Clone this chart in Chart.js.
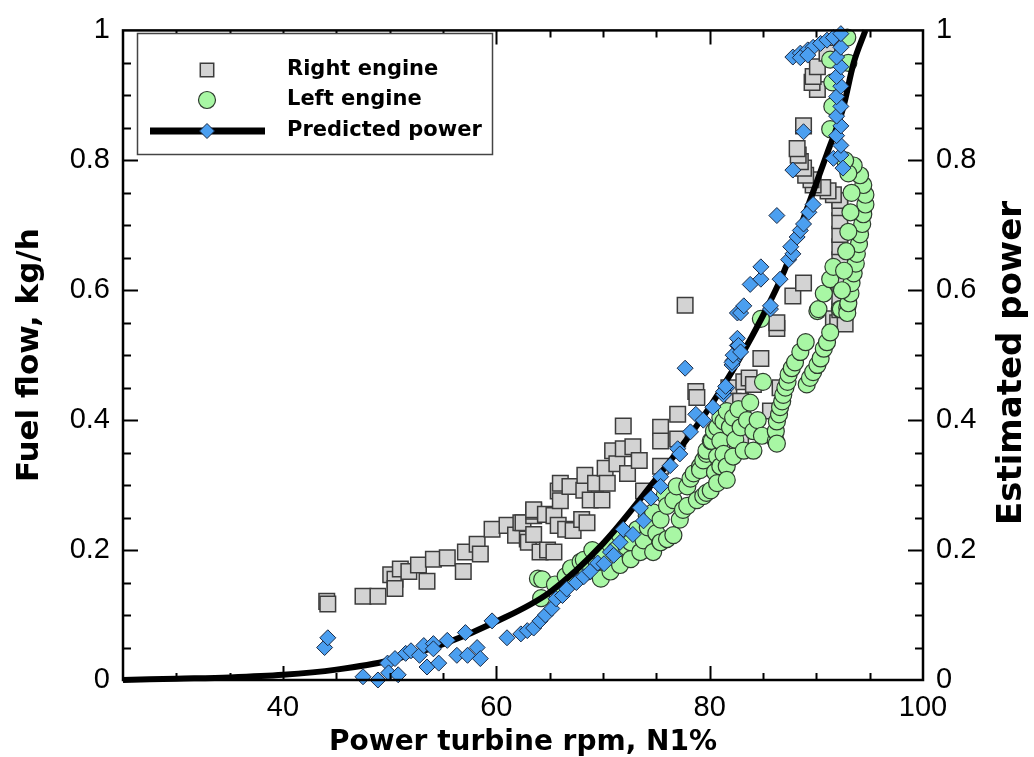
<!DOCTYPE html>
<html><head><meta charset="utf-8">
<script src="https://cdn.jsdelivr.net/npm/chart.js@4.4.1/dist/chart.umd.min.js"></script>
<style>html,body{margin:0;padding:0;background:#fff;}#wrap{width:1034px;height:757px;}</style>
</head><body><div id="wrap"><canvas id="c" width="1034" height="757"></canvas></div>
<script>
// ---- data (x = power turbine rpm N1 %, y = fuel flow / estimated power) ----
const xTickValues = [40, 60, 80, 100];
const yTickValues = [0, 0.2, 0.4, 0.6, 0.8, 1];
const xMinorStep = 5;
const yMinorStep = 0.05;

const rightEngine = [
 [44.1,.121],[44.2,.117],[47.5,.129],[48.9,.129],[50.1,.162],[50.5,.155],[50.5,.141],[51,.171],[51.8,.167],
 [52.7,.177],[53.5,.152],[54.1,.186],[55.4,.188],[56.9,.167],[57.1,.197],[58.2,.209],[58.5,.194],[59.6,.232],
 [61,.238],[61.8,.223],[62.3,.242],[62.5,.242],[62.9,.217],[63,.212],[63.5,.253],[63.5,.26],[63.5,.262],[63.5,.224],
 [64.1,.197],[64.6,.255],[64.8,.2],[65.4,.253],[65.4,.197],[65.8,.291],[65.8,.238],[66,.276],[66,.303],[66.5,.232],
 [66.9,.298],[67.2,.23],[68,.247],[68.2,.292],[68.3,.315],[68.5,.242],[68.8,.277],[69.3,.303],[69.9,.277],[70.2,.326],
 [70.4,.303],[70.9,.353],[71.3,.333],[71.9,.356],[71.9,.391],[72.3,.318],[72.8,.359],[73.4,.338],[73.8,.291],
 [75.4,.389],[75.4,.368],[75.4,.329],[77,.409],[77,.371],[77.7,.577],[78.7,.444],[78.8,.435],[81.8,.45],[82.2,.429],
 [82.6,.409],[82.6,.389],[82.6,.368],[82.9,.374],[82.9,.429],[83.1,.414],[83.2,.459],[83.7,.465],[84.1,.455],
 [84.8,.495],[85.7,.414],[86.3,.541],[86.3,.55],[86.6,.45],[87.8,.591],[88.8,.611],[91.6,.556],[92,.55],[92.7,.548],
 [92.2,.57],[92.2,.59],[92.2,.61],[92.2,.632],[92.2,.647],[92.2,.667],[92.2,.686],[92.2,.707],[92.2,.727],[92.2,.738],
 [91.6,.747],[91.1,.753],[90.6,.758],[89.7,.762],[89.5,.77],[89,.777],[88.8,.788],[88.5,.798],[88.3,.808],[88.2,.818],
 [88.8,.853],[90.1,.909],[89.6,.92],[89.7,.929],[90.1,.944],[91,.965]
];

const leftEngine = [
 [63.9,.156],[64.2,.126],[64.3,.155],[65.5,.147],[66.5,.16],[67,.172],[67.9,.182],[68.2,.185],[68.5,.167],[68.8,.174],
 [69.4,.182],[69.8,.156],[69,.2],[70,.19],[70.7,.208],[70.7,.167],[71.2,.2],[71.6,.223],[71.6,.177],[72.2,.205],
 [72.6,.212],[72.6,.186],[73.2,.232],[73.5,.197],[73.8,.215],[74.1,.253],[74.2,.235],[74.7,.258],[74.7,.197],[75,.226],
 [75.4,.247],[75.4,.212],[75.8,.285],[76,.268],[76,.217],[76.6,.277],[76.6,.223],[76.9,.298],[77.2,.247],[77.5,.262],
 [77.9,.298],[77.9,.268],[78.2,.31],[78.5,.318],[78.8,.277],[79.1,.329],[79.1,.323],[79.4,.338],[79.4,.283],[79.7,.348],
 [79.7,.353],[79.7,.288],[80.1,.368],[80.1,.292],[80.2,.368],[80.4,.383],[80.5,.32],[80.7,.389],[80.7,.344],[80.7,.303],
 [81,.404],[81,.368],[81,.329],[81.3,.398],[81.3,.348],[81.6,.414],[81.6,.329],[81.6,.308],[81.9,.389],[82.2,.404],
 [82.2,.344],[82.4,.37],[82.7,.417],[82.9,.389],[83.2,.353],[83.5,.4],[83.8,.427],[84.1,.383],[84.1,.353],[84.5,.4],
 [84.9,.376],[85,.459],[84.8,.556],[86.2,.368],[86.2,.383],[86.3,.364],[86.3,.398],[86.5,.409],[86.6,.42],[86.8,.429],
 [86.9,.439],[87.1,.45],[87.3,.459],[87.4,.47],[87.7,.48],[88,.489],[88.5,.505],[89,.52],[89.1,.455],[89.4,.465],
 [89.7,.474],[90.1,.485],[90.4,.495],[90.7,.51],[91,.52],[91.3,.535],[90.1,.568],[90.2,.571],[90.7,.595],[91.3,.617],
 [91.6,.636],[92.2,.571],[92.3,.571],[92.9,.573],[92.9,.565],[93,.58],[93.2,.595],[93.3,.611],[93.5,.626],[93.7,.641],
 [93.8,.656],[94,.671],[94.1,.686],[94.3,.702],[94.4,.717],[94.6,.732],[94.6,.747],[94.4,.762],[94.1,.777],[93.5,.792],
 [92.4,.6],[92.6,.63],[92.8,.66],[93,.69],[93.2,.72],[93.3,.75],[93,.78],[92.7,.8],[92.9,.989],[93,.95],
 [91.3,.955],[91.5,.883],[91.3,.848],[91.5,.92]
];

const predictedPoints = [
 [43.9,.05],[44.2,.065],[47.5,.005],[48.9,0],[49.8,.026],[49.9,.011],[50.5,.033],[50.8,.008],[51.5,.041],[52,.045],
 [52.8,.038],[53.2,.053],[53.5,.02],[54.1,.056],[54.1,.048],[54.6,.026],[55.4,.061],[56.3,.038],[57.1,.073],[57.3,.038],
 [58.2,.05],[58.5,.033],[59.6,.091],[61,.065],[62.3,.071],[62.9,.076],[63.5,.08],[64.1,.091],[64.6,.1],[65.2,.11],
 [65.6,.125],[66.2,.13],[66.6,.14],[67.5,.15],[68.2,.159],[68.8,.167],[69.5,.18],[70.1,.179],[70.7,.197],[71,.192],
 [71.6,.212],[71.9,.232],[72.8,.224],[73.5,.265],[73.8,.245],[74.5,.28],[75.4,.313],[75.4,.298],[76.3,.33],[77,.356],
 [77.2,.348],[77.7,.48],[78.2,.382],[78.7,.409],[79.4,.4],[80.3,.42],[81.3,.439],[81.6,.45],[81.3,.444],[81.5,.452],
 [82.1,.485],[82.2,.492],[82.1,.489],[82.2,.5],[82.6,.515],[82.6,.526],[82.7,.515],[82.9,.505],[82.6,.565],[82.9,.565],
 [83.2,.576],[83.8,.609],[84.8,.617],[84.8,.636],[85.7,.571],[85.7,.576],[86.3,.715],[86.6,.617],[87.4,.647],[87.8,.656],
 [87.6,.667],[88.2,.682],[88.5,.692],[88.8,.702],[89.3,.72],[89.7,.732],[87.8,.785],[88.8,.844],[91.6,.803],[92.3,.808],
 [92.5,.788],[92.3,.823],[91.9,.838],[92.3,.853],[91.9,.868],[92.3,.883],[91.9,.898],[92.3,.914],[91.9,.929],[92.3,.944],
 [91.9,.959],[92.3,.974],[87.8,.959],[88.5,.965],[89.2,.97],[89.7,.974],[90.4,.98],[91,.985],[91.6,.989],[92.3,.995],
 [88.5,.958],[89.2,.962]
];

const predictedCurve = [
 [25,0],[30,.002],[35,.004],[40,.008],[45,.016],[50,.03],[55,.055],[60,.09],[65,.135],[70,.21],[75,.31],
 [80,.42],[84,.53],[87,.63],[89,.72],[91,.81],[92.5,.88],[93.5,.95],[94.6,1.0]
];

const toXY = a => a.map(p => ({x: p[0], y: p[1]}));

const squareStyle = {pointStyle:'rect', pointRadius:11, backgroundColor:'#d3d3d3', borderColor:'#3c3c3c', borderWidth:1.5};
const circleStyle = {pointStyle:'circle', pointRadius:8.5, backgroundColor:'#a8f7a4', borderColor:'#2e3a2e', borderWidth:1.2};
const diamondStyle = {pointStyle:'rectRot', pointRadius:8, backgroundColor:'#4b9ff0', borderColor:'#1b2a44', borderWidth:1};

const frameTicks = {
  id: 'frameTicks',
  afterDatasetsDraw(chart) {
    const {ctx, chartArea: {left, right, top, bottom}, scales: {x, y}} = chart;
    ctx.save();
    ctx.strokeStyle = '#000';
    ctx.lineWidth = 2;
    ctx.beginPath();
    for (let v = x.min + xMinorStep; v < x.max - 1e-6; v += xMinorStep) {
      const px = Math.round(x.getPixelForValue(v)) + 0.5;
      const len = xTickValues.some(t => Math.abs(t - v) < 1e-6) ? 14 : 7;
      ctx.moveTo(px, bottom); ctx.lineTo(px, bottom - len);
      ctx.moveTo(px, top); ctx.lineTo(px, top + len);
    }
    for (let v = y.min + yMinorStep; v < y.max - 1e-6; v += yMinorStep) {
      const py = Math.round(y.getPixelForValue(v)) + 0.5;
      const len = yTickValues.some(t => Math.abs(t - v) < 1e-6) ? 15 : 8;
      ctx.moveTo(left, py); ctx.lineTo(left + len, py);
      ctx.moveTo(right, py); ctx.lineTo(right - len, py);
    }
    ctx.stroke();
    ctx.lineWidth = 2.5;
    ctx.strokeRect(left, top, right - left, bottom - top);

    // legend
    const ds = chart.data.datasets;
    ctx.fillStyle = '#fff';
    ctx.fillRect(137, 33, 356, 122);
    ctx.lineWidth = 1.5;
    ctx.strokeStyle = '#444';
    ctx.strokeRect(137.5, 33.5, 355, 121);
    const rows = [
      {label: ds[3].label, y: 70, kind: 'sq', d: ds[3]},
      {label: ds[2].label, y: 100, kind: 'ci', d: ds[2]},
      {label: ds[1].label, y: 131, kind: 'ln', d: ds[0]}
    ];
    ctx.font = 'bold 21px "DejaVu Sans"';
    ctx.textBaseline = 'middle';
    ctx.textAlign = 'left';
    rows.forEach(r => {
      if (r.kind === 'ln') {
        ctx.strokeStyle = '#000'; ctx.lineWidth = 7;
        ctx.beginPath(); ctx.moveTo(150, r.y); ctx.lineTo(265, r.y); ctx.stroke();
      }
      const o = r.d;
      ctx.fillStyle = o.backgroundColor; ctx.strokeStyle = o.borderColor; ctx.lineWidth = o.borderWidth;
      Chart.helpers.drawPoint(ctx, {pointStyle: o.pointStyle, radius: r.kind === 'sq' ? 9.5 : (r.kind === 'ci' ? 8.5 : 7.5), rotation: 0, borderWidth: o.borderWidth}, 207, r.y);
      ctx.fillStyle = '#000';
      ctx.fillText(r.label, 287, r.y);
    });

    // right axis title
    ctx.save();
    ctx.translate(1012, 363);
    ctx.rotate(-Math.PI / 2);
    ctx.font = 'bold 34px "DejaVu Sans"';
    ctx.textAlign = 'center';
    ctx.textBaseline = 'middle';
    ctx.fillStyle = '#000';
    ctx.fillText('Estimated power', 0, 0);
    ctx.restore();
    ctx.restore();
  }
};

const tickFont = {family: '"Liberation Sans", Arial, sans-serif', size: 29, lineHeight: 1.2};
const fmtY = v => (v === 0 ? '0' : v === 1 ? '1' : v.toFixed(1));

new Chart(document.getElementById('c'), {
  type: 'scatter',
  data: {
    datasets: [
      Object.assign({label: 'Predicted power', data: toXY(predictedPoints), order: 0, clip: false}, diamondStyle),
      {label: 'Predicted power', data: toXY(predictedCurve), order: 1, showLine: true, pointRadius: 0,
       borderColor: '#000', borderWidth: 6, cubicInterpolationMode: 'monotone', fill: false, clip: false},
      Object.assign({label: 'Left engine', data: toXY(leftEngine), order: 2, clip: false}, circleStyle),
      Object.assign({label: 'Right engine', data: toXY(rightEngine), order: 3, clip: false}, squareStyle)
    ]
  },
  options: {
    responsive: false,
    animation: false,
    devicePixelRatio: 1,
    layout: {padding: {top: 20, left: 0, right: 0, bottom: 0}},
    plugins: {legend: {display: false}, tooltip: {enabled: false}},
    scales: {
      x: {
        type: 'linear', position: 'bottom', min: 25, max: 100,
        grid: {display: false, drawTicks: false}, border: {display: false},
        afterBuildTicks: s => { s.ticks = xTickValues.map(v => ({value: v})); },
        afterFit: s => { s.height = 77; },
        ticks: {font: tickFont, color: '#000', padding: 11, maxRotation: 0, autoSkip: false},
        title: {display: true, text: 'Power turbine rpm, N1%', color: '#000',
                font: {family: '"DejaVu Sans"', size: 28, weight: 'bold', lineHeight: 1}, padding: {top: 0, bottom: 0}}
      },
      y: {
        type: 'linear', position: 'left', min: 0, max: 1,
        grid: {display: false, drawTicks: false}, border: {display: false},
        afterBuildTicks: s => { s.ticks = yTickValues.map(v => ({value: v})); },
        afterFit: s => { s.width = 123; },
        ticks: {font: tickFont, color: '#000', padding: 13, callback: fmtY, autoSkip: false},
        title: {display: true, text: 'Fuel flow, kg/h', color: '#000',
                font: {family: '"DejaVu Sans"', size: 31, weight: 'bold', lineHeight: 1}, padding: {top: 14, bottom: 0}}
      },
      y2: {
        type: 'linear', position: 'right', min: 0, max: 1, display: true,
        grid: {display: false, drawTicks: false}, border: {display: false},
        afterBuildTicks: s => { s.ticks = yTickValues.map(v => ({value: v})); },
        afterFit: s => { s.width = 111; },
        ticks: {font: tickFont, color: '#000', padding: 13, callback: fmtY, autoSkip: false}
      }
    }
  },
  plugins: [frameTicks]
});
</script>
</body></html>
